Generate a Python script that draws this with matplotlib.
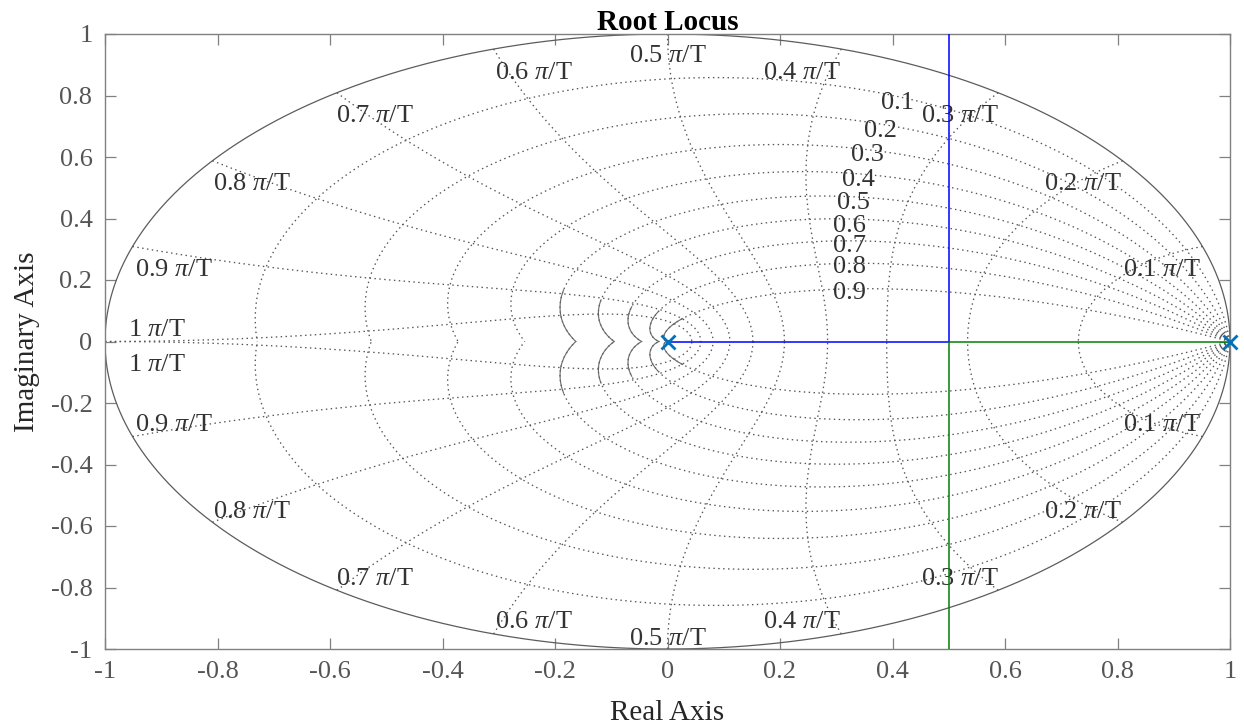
import numpy as np
import matplotlib
matplotlib.use('Agg')
import matplotlib.pyplot as plt

# ---------------- data ----------------
num = [1.0]                 # open-loop numerator
den = [1.0, -1.0, 0.0]      # open-loop denominator z(z-1)
poles = [0.0, 1.0]
gains = np.concatenate([np.linspace(0.0, 0.25, 300), np.linspace(0.25, 3.0, 300)])
zetas = [0.0, 0.1, 0.2, 0.3, 0.4, 0.5, 0.6, 0.7, 0.8, 0.9]
wns = [0.1, 0.2, 0.3, 0.4, 0.5, 0.6, 0.7, 0.8, 0.9, 1.0]   # in units of pi/T
xticks = [-1, -0.8, -0.6, -0.4, -0.2, 0, 0.2, 0.4, 0.6, 0.8, 1]
yticks = [-1, -0.8, -0.6, -0.4, -0.2, 0, 0.2, 0.4, 0.6, 0.8, 1]

plt.rcParams['font.family'] = ['Liberation Serif', 'DejaVu Serif']
plt.rcParams['mathtext.fontset'] = 'custom'
plt.rcParams['mathtext.it'] = 'Liberation Serif:italic'
plt.rcParams['mathtext.rm'] = 'Liberation Serif'
plt.rcParams['axes.unicode_minus'] = False

W, H = 1244, 725
fig = plt.figure(figsize=(W / 100, H / 100), dpi=100)
ax = fig.add_axes([105 / W, 1 - 649 / H, (1230 - 105) / W, (649 - 34) / H])

grid_col = '#555555'
dot = (0, (1.1, 2.6))
lw_g = 0.95

# ---- damping ratio curves ----
th = np.linspace(0, np.pi, 800)
solid_r = {0.5: 0.25, 0.6: 0.18, 0.7: 0.13, 0.8: 0.10, 0.9: 0.08}
for zt in zetas:
    if zt == 0:
        t2 = np.linspace(0, 2 * np.pi, 1000)
        ax.plot(np.cos(t2), np.sin(t2), color='#5c5c5c', lw=0.9, zorder=2)
        continue
    m = zt / np.sqrt(1 - zt * zt)
    zz = np.exp((-m + 1j) * th)
    for s in (1, -1):
        ax.plot(zz.real, s * zz.imag, color=grid_col, lw=lw_g, ls=dot, zorder=2)
        if zt in solid_r:
            msk = np.abs(zz) < solid_r[zt]
            ax.plot(zz.real[msk], s * zz.imag[msk], color='#6a6a6a', lw=0.8, zorder=2)

# ---- natural frequency curves ----
zeta_s = np.linspace(0, 1, 600)
for w in wns:
    Wn = w * np.pi
    zz = np.exp(Wn * (-zeta_s + 1j * np.sqrt(1 - zeta_s ** 2)))
    for s in (1, -1):
        ax.plot(zz.real, s * zz.imag, color=grid_col, lw=lw_g, ls=dot, zorder=2)

# ---- labels of grid ----
lab_col = '#333333'
fs_lab = 19
wn_lab_pos = {0.1: (0.878, 0.252), 0.2: (0.739, 0.533), 0.3: (0.520, 0.752),
              0.4: (0.238, 0.893), 0.5: (0.000, 0.948), 0.6: (-0.238, 0.893),
              0.7: (-0.520, 0.752), 0.8: (-0.739, 0.533), 0.9: (-0.878, 0.252),
              1.0: (-0.907, 0.057)}
for w in wns:
    x, yy = wn_lab_pos[w]
    txt = '%g $\\pi$/T' % w
    for s in (1, -1):
        ax.text(x, s * yy - 0.020, txt, ha='center', va='center', fontsize=fs_lab,
                color=lab_col, zorder=3)

zeta_lab_pos = {0.1: (0.408, 0.785), 0.2: (0.378, 0.694), 0.3: (0.356, 0.613),
                0.4: (0.340, 0.532), 0.5: (0.331, 0.460), 0.6: (0.324, 0.385),
                0.7: (0.324, 0.320), 0.8: (0.324, 0.249), 0.9: (0.324, 0.167)}
for zt in zetas[1:]:
    x, yy = zeta_lab_pos[zt]
    ax.text(x, yy - 0.008, '%g' % zt, ha='center', va='center', fontsize=fs_lab,
            color=lab_col, zorder=3)

# ---- root locus ----
roots = []
prev = None
for k in gains:
    poly = np.polyadd(den, k * np.array(num))
    r = np.roots(poly)
    if prev is None:
        r = np.sort_complex(r)
    else:
        if abs(r[0] - prev[0]) + abs(r[1] - prev[1]) > abs(r[1] - prev[0]) + abs(r[0] - prev[1]):
            r = r[::-1]
    roots.append(r)
    prev = r
roots = np.array(roots)
ax.plot(roots[:, 0].real, roots[:, 0].imag, color='#0000ff', lw=1.1, zorder=4)
ax.plot(roots[:, 1].real, roots[:, 1].imag, color='#008000', lw=1.1, zorder=4)
ax.plot(np.real(poles), np.imag(poles), ls='none', marker='x', color='#0072bd',
        ms=10, mew=2.0, zorder=5, clip_on=False)

# ---- axes styling ----
ax.set_xlim(-1, 1)
ax.set_ylim(-1, 1)
ax.set_xticks(xticks)
ax.set_yticks(yticks)
ax.set_xticklabels(['%g' % v for v in xticks])
ax.set_yticklabels(['%g' % v for v in yticks])
spine_col = '#808080'
for sp in ax.spines.values():
    sp.set_color(spine_col)
    sp.set_linewidth(1.0)
ax.tick_params(direction='in', length=8, width=0.9, color=spine_col,
               labelcolor='#555555', labelsize=19, top=True, right=True, pad=9)
ax.set_title('Root Locus', fontsize=21, fontweight='bold', color='black', pad=3)
ax.set_xlabel('Real Axis', fontsize=21, color='#262626', labelpad=12)
ax.set_ylabel('Imaginary Axis', fontsize=21, color='#262626', labelpad=8)

fig.savefig('out.png', dpi=100)
